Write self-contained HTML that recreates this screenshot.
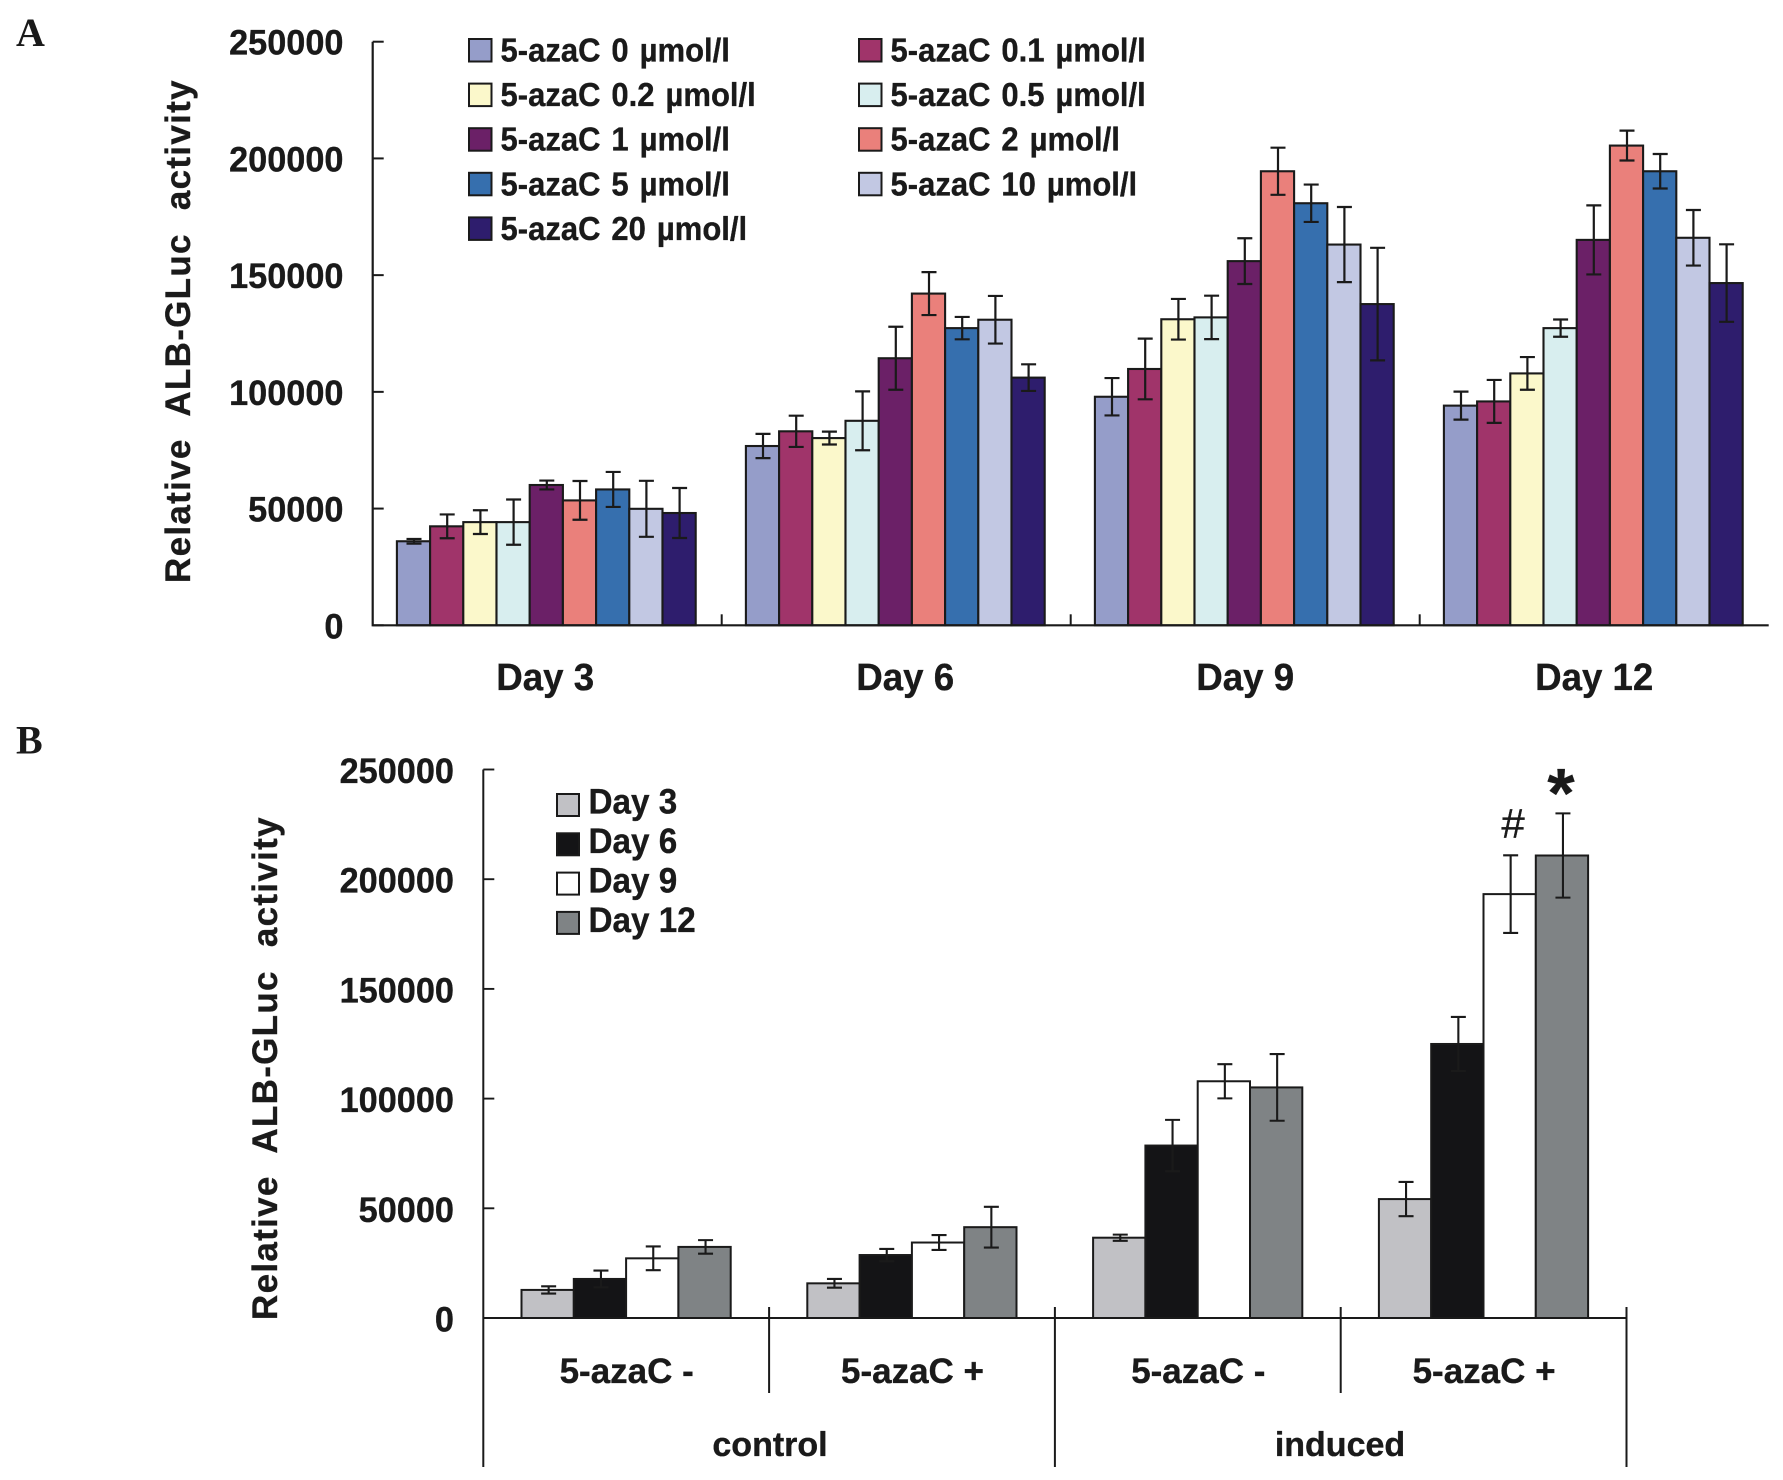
<!DOCTYPE html>
<html lang="en">
<head>
<meta charset="utf-8">
<title>ALB-GLuc activity bar charts</title>
<style>
html,body{margin:0;padding:0;background:#fff;}
svg{display:block;}
text{font-family:"Liberation Sans",Arial,sans-serif;font-weight:bold;fill:#1a1a1a;stroke:#1a1a1a;stroke-width:0.35px;}
.letter{font-family:"Liberation Serif",serif;font-size:40px;stroke-width:0;}
.ytitle{font-size:35px;letter-spacing:1.3px;word-spacing:12px;}
</style>
</head>
<body>
<svg id="figure" width="1783" height="1480" viewBox="0 0 1783 1480" xmlns="http://www.w3.org/2000/svg">
  <rect x="0" y="0" width="1783" height="1480" fill="#ffffff"/>
  <text class="letter" x="16" y="46">A</text>
  <text class="letter" x="16" y="753.5">B</text>
  <text class="ytitle" transform="translate(190,583) rotate(-90)" x="0" y="0">Relative ALB-GLuc activity</text>
  <text class="ytitle" transform="translate(277,1320) rotate(-90)" x="0" y="0">Relative ALB-GLuc activity</text>
  <text x="770" y="1456" font-size="34" text-anchor="middle">control</text>
  <text x="1340" y="1456" font-size="34" text-anchor="middle">induced</text>
  <text x="1513" y="838" font-size="42" text-anchor="middle" style="font-weight:normal">#</text>
  <text x="1561" y="817" font-size="70" text-anchor="middle">*</text>
  <g id="panel-a"></g>
  <g id="panel-b"></g>
</svg>
<script>
// ---------- Panel A data ----------
const dayCategoriesA = ["Day 3", "Day 6", "Day 9", "Day 12"];
const seriesNamesA = ["5-azaC 0 µmol/l", "5-azaC 0.1 µmol/l", "5-azaC 0.2 µmol/l", "5-azaC 0.5 µmol/l", "5-azaC 1 µmol/l", "5-azaC 2 µmol/l", "5-azaC 5 µmol/l", "5-azaC 10 µmol/l", "5-azaC 20 µmol/l"];
const valuesDay3 = [36000, 42400, 44200, 44200, 60100, 53500, 58200, 49900, 48100];
const valuesDay6 = [76800, 83100, 80200, 87600, 114400, 142100, 127300, 130900, 106100];
const valuesDay9 = [97900, 109800, 131100, 131900, 156000, 194500, 180800, 163100, 137600];
const valuesDay12 = [94100, 95900, 107900, 127300, 165100, 205500, 194500, 166000, 146600];
const errorsDay3 = [1000, 5100, 5100, 9700, 1900, 8300, 7500, 12000, 10700];
const errorsDay6 = [5200, 6700, 2750, 12600, 13500, 9200, 4800, 10200, 5700];
const errorsDay9 = [8000, 13000, 8700, 9300, 9800, 10100, 8000, 16100, 24100];
const errorsDay12 = [6000, 9200, 7000, 3700, 14800, 6400, 7400, 11900, 16600];
const tickLabels = [0, 50000, 100000, 150000, 200000, 250000];

// ---------- Panel B data ----------
const treatmentCategoriesB = ["5-azaC -", "5-azaC +", "5-azaC -", "5-azaC +"];
const seriesNamesB = ["Day 3", "Day 6", "Day 9", "Day 12"];
const valuesControlMinus = [12800, 17800, 27200, 32400];
const valuesControlPlus = [15800, 28700, 34400, 41400];
const valuesInducedMinus = [36600, 78600, 107900, 105100];
const valuesInducedPlus = [54200, 124900, 193200, 210800];
const errorsControlMinus = [1650, 3800, 5400, 3100];
const errorsControlPlus = [2000, 2800, 3400, 9300];
const errorsInducedMinus = [1400, 11700, 7800, 15200];
const errorsInducedPlus = [7800, 12300, 17700, 19200];

// ---------- Appearance ----------
const paletteA = ["#959dc9", "#a0346a", "#fbf8cb", "#d8eeef", "#6b2067", "#ea807b", "#366fae", "#c2c8e3", "#2e1d6d"];
const paletteB = ["#c1c1c5", "#141416", "#ffffff", "#7f8385"];
const INK = "#1a1a1a";
const NS = "http://www.w3.org/2000/svg";

function mk(parent, tag, attrs, txt) {
  const el = document.createElementNS(NS, tag);
  for (const k in attrs) el.setAttribute(k, attrs[k]);
  if (txt !== undefined) el.textContent = txt;
  parent.appendChild(el);
  return el;
}

// ---------- Panel A ----------
const gA = document.getElementById("panel-a");
const A = {x0: 372.7, y0: 625.3, h: 583.6, max: 250000, band: 349, pad: 24.2, barW: 33.2, tick: 11};
const yA = v => A.y0 - v / A.max * A.h;
const bandXA = c => A.x0 + c * A.band;
const barXA = (c, s) => bandXA(c) + A.pad + s * A.barW;
const dayValuesA = [valuesDay3, valuesDay6, valuesDay9, valuesDay12];
const dayErrorsA = [errorsDay3, errorsDay6, errorsDay9, errorsDay12];
const labelNudgeA = [-2, 9, 0, 0];

dayValuesA.forEach(function (vals, c) {
  vals.forEach(function (v, s) {
    const r = mk(gA, "rect", {x: barXA(c, s), y: yA(v), width: A.barW, height: A.y0 - yA(v), fill: paletteA[s], stroke: INK, "stroke-width": 2.1});
    
    
  });
});
dayValuesA.forEach(function (vals, c) {
  vals.forEach(function (v, s) {
    const e = dayErrorsA[c][s];
    const cx = barXA(c, s) + A.barW / 2 + 0.5;
    const p = mk(gA, "path", {d: "M" + (cx - 7.5) + " " + yA(v + e) + "H" + (cx + 7.5) + "M" + cx + " " + yA(v + e) + "V" + yA(v - e) + "M" + (cx - 7.5) + " " + yA(v - e) + "H" + (cx + 7.5), fill: "none", stroke: INK, "stroke-width": 2.2});
    
    
  });
});
const axisA = mk(gA, "path", {d: "M" + A.x0 + " " + yA(250000) + "V" + A.y0 + "H" + (A.x0 + 4 * A.band), fill: "none", stroke: INK, "stroke-width": 2.2});


tickLabels.forEach(function (t) {
  const tk = mk(gA, "line", {x1: A.x0, x2: A.x0 + A.tick, y1: yA(t), y2: yA(t), stroke: INK, "stroke-width": 2});
  
  
  const lb = mk(gA, "text", {transform: "translate(343.5," + (yA(t) + 13) + ") scale(0.98,1)", "font-size": 35, "text-anchor": "end"}, String(t));
  
  
});
dayCategoriesA.forEach(function (d, c) {
  if (c > 0) {
    const tk = mk(gA, "line", {x1: bandXA(c), x2: bandXA(c), y1: A.y0, y2: A.y0 - A.tick, stroke: INK, "stroke-width": 2});
    
    
  }
  const lb = mk(gA, "text", {transform: "translate(" + (bandXA(c) + A.band / 2 + labelNudgeA[c]) + ",690) scale(0.965,1)", "font-size": 38, "text-anchor": "middle"}, d);
  
  
});
seriesNamesA.forEach(function (name, s) {
  const col = s % 2, row = Math.floor(s / 2);
  const sx = col ? 859 : 469, sy = 39 + row * 44.6;
  const sw = mk(gA, "rect", {x: sx, y: sy, width: 22.5, height: 22.5, fill: paletteA[s], stroke: INK, "stroke-width": 2});
  
  
  const lb = mk(gA, "text", {transform: "translate(" + (sx + 31.5) + "," + (sy + 22.5) + ") scale(0.94,1)", "font-size": 33, "word-spacing": 2.5}, name);
  
  
});

// ---------- Panel B ----------
const gB = document.getElementById("panel-b");
const B = {x0: 483.3, y0: 1318, h: 548.5, max: 250000, band: 285.8, pad: 38.2, barW: 52.3, tick: 11};
const yB = v => B.y0 - v / B.max * B.h;
const bandXB = c => B.x0 + c * B.band;
const barXB = (c, s) => bandXB(c) + B.pad + s * B.barW;
const groupValuesB = [valuesControlMinus, valuesControlPlus, valuesInducedMinus, valuesInducedPlus];
const groupErrorsB = [errorsControlMinus, errorsControlPlus, errorsInducedMinus, errorsInducedPlus];

groupValuesB.forEach(function (vals, c) {
  vals.forEach(function (v, s) {
    const r = mk(gB, "rect", {x: barXB(c, s), y: yB(v), width: B.barW, height: B.y0 - yB(v), fill: paletteB[s], stroke: INK, "stroke-width": 2});
    
    
  });
});
groupValuesB.forEach(function (vals, c) {
  vals.forEach(function (v, s) {
    const e = groupErrorsB[c][s];
    const cx = barXB(c, s) + B.barW / 2 + 1;
    const p = mk(gB, "path", {d: "M" + (cx - 7.5) + " " + yB(v + e) + "H" + (cx + 7.5) + "M" + cx + " " + yB(v + e) + "V" + yB(v - e) + "M" + (cx - 7.5) + " " + yB(v - e) + "H" + (cx + 7.5), fill: "none", stroke: INK, "stroke-width": 2.1});
    
    
  });
});
const axisB = mk(gB, "path", {d: "M" + B.x0 + " " + yB(250000) + "V1467M" + B.x0 + " " + B.y0 + "H" + (B.x0 + 4 * B.band), fill: "none", stroke: INK, "stroke-width": 2});


tickLabels.forEach(function (t) {
  const tk = mk(gB, "line", {x1: B.x0, x2: B.x0 + B.tick, y1: yB(t), y2: yB(t), stroke: INK, "stroke-width": 1.9});
  
  
  const lb = mk(gB, "text", {transform: "translate(454," + (yB(t) + 13.5) + ") scale(0.98,1)", "font-size": 35, "text-anchor": "end"}, String(t));
  
  
});
treatmentCategoriesB.forEach(function (name, c) {
  const lb = mk(gB, "text", {x: bandXB(c) + B.band / 2 + 0.5, y: 1383, "font-size": 35, "text-anchor": "middle"}, name);
  
  
  const sx = bandXB(c + 1);
  const sep = mk(gB, "line", {x1: sx, x2: sx, y1: B.y0 - B.tick, y2: c % 2 === 0 ? 1393 : 1467, stroke: INK, "stroke-width": 2});
  
  
});
seriesNamesB.forEach(function (name, s) {
  const sy = 794 + s * 39.3;
  const sw = mk(gB, "rect", {x: 557, y: sy, width: 22, height: 22, fill: paletteB[s], stroke: INK, "stroke-width": 2});
  
  
  const lb = mk(gB, "text", {transform: "translate(588.5," + (813.5 + s * 39.5) + ") scale(0.95,1)", "font-size": 35}, name);
  
  
});
</script>
</body>
</html>
